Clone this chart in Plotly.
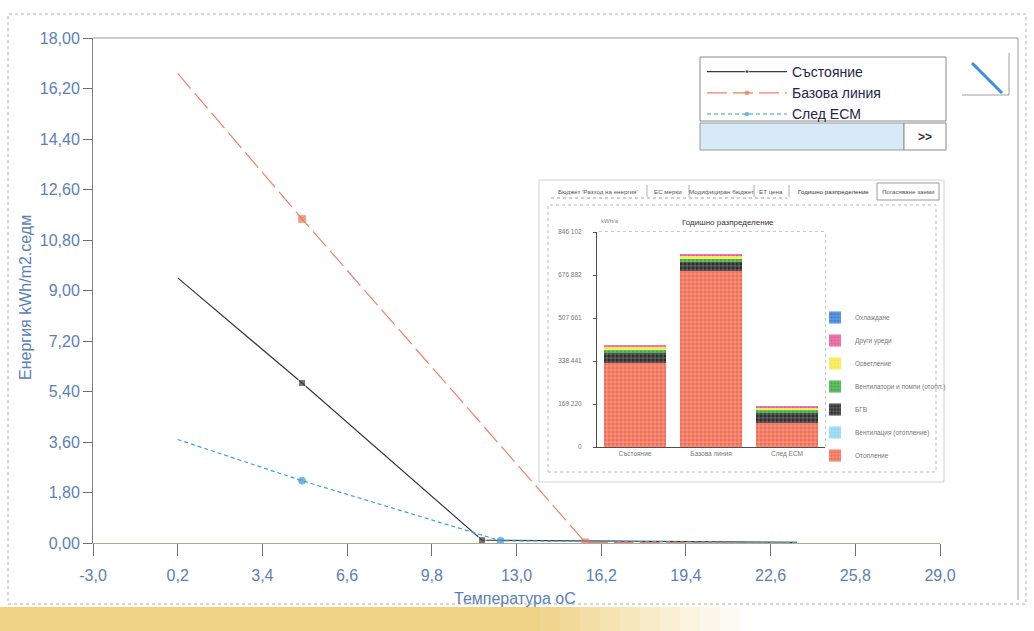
import plotly.graph_objects as go

# ---------------- main chart data ----------------
temp_state = [0.2, 4.9, 11.7, 23.6]
energy_state = [9.45, 5.70, 0.10, 0.02]

temp_base = [0.2, 4.9, 15.6, 23.6]
energy_base = [16.74, 11.55, 0.02, 0.0]

temp_ecm = [0.2, 4.9, 12.4, 23.6]
energy_ecm = [3.69, 2.22, 0.08, 0.02]

series_names = ["Състояние", "Базова линия", "След ECM"]

x_tick_vals = [-3.0, 0.2, 3.4, 6.6, 9.8, 13.0, 16.2, 19.4, 22.6, 25.8, 29.0]
x_tick_text = ["-3,0", "0,2", "3,4", "6,6", "9,8", "13,0", "16,2", "19,4", "22,6", "25,8", "29,0"]
y_tick_vals = [0.0, 1.8, 3.6, 5.4, 7.2, 9.0, 10.8, 12.6, 14.4, 16.2, 18.0]
y_tick_text = ["0,00", "1,80", "3,60", "5,40", "7,20", "9,00", "10,80", "12,60", "14,40", "16,20", "18,00"]

# ---------------- inset (annual distribution) data ----------------
inset_categories = ["Състояние", "Базова линия", "След ECM"]
heating = [330600, 692600, 94400]          # Отопление
ventilation_heat = [0, 0, 0]               # Вентилация (отопление)
dhw = [39300, 35400, 39300]                # БГВ
fans_pumps = [11800, 11800, 11800]         # Вентилатори и помпи
lighting = [11800, 11800, 9800]            # Осветление
appliances = [7900, 7900, 7900]            # Други уреди
cooling = [0, 0, 0]                        # Охлаждане

inset_tick_vals = [0, 169220, 338441, 507661, 676882, 846102]
inset_tick_text = ["0", "169 220", "338 441", "507 661", "676 882", "846 102"]

tab_labels = ["Бюджет 'Разход на енергия'", "ЕС мерки", "Модифициран бюджет",
              "ЕТ цена", "Годишно разпределение", "Погасяване заеми"]

# ---------------- geometry helpers (pixel -> paper) ----------------
L, R, T, B = 93, 940, 38, 543
W, H = 1034, 631


def fx(p):
    return (p - L) / (R - L)


def fy(p):
    return (B - p) / (B - T)


def end_marker_sizes(n, s):
    return [0] + [s] * (n - 2) + [0]


FONT = "Liberation Sans"
AXIS_BLUE = "#5b80b8"

fig = go.Figure()

fig.add_trace(go.Scatter(
    x=temp_state, y=energy_state, mode="lines+markers", name=series_names[0],
    line=dict(color="#3a3a3a", width=1.2),
    marker=dict(size=end_marker_sizes(len(temp_state), 7), color="#3a3a3a", symbol="square"),
    legend="legend"))
fig.add_trace(go.Scatter(
    x=temp_base, y=energy_base, mode="lines+markers", name=series_names[1],
    line=dict(color="#f0806a", width=1.2, dash="20px,6px"),
    marker=dict(size=end_marker_sizes(len(temp_base), 7), color="#f07050", symbol="square"),
    legend="legend"))
fig.add_trace(go.Scatter(
    x=temp_ecm, y=energy_ecm, mode="lines+markers", name=series_names[2],
    line=dict(color="#3aa0e0", width=1.2, dash="4px,3px"),
    marker=dict(size=end_marker_sizes(len(temp_ecm), 7), color="#3a90e0", symbol="circle"),
    legend="legend"))

# inset stacked bars (bottom to top)
bar_specs = [
    ("Отопление", heating, "#f26e55"),
    ("Вентилация (отопление)", ventilation_heat, "#8fd6f2"),
    ("БГВ", dhw, "#2e2e2e"),
    ("Вентилатори и помпи (отопл.)", fans_pumps, "#3fae45"),
    ("Осветление", lighting, "#f4ea45"),
    ("Други уреди", appliances, "#e85a9a"),
    ("Охлаждане", cooling, "#3b7fd8"),
]
for i, (name, vals, col) in enumerate(bar_specs):
    fig.add_trace(go.Bar(
        x=inset_categories, y=vals, name=name, xaxis="x2", yaxis="y2",
        marker=dict(color=col, line=dict(width=0),
                    pattern=dict(shape="+", fgcolor="white", size=4, solidity=0.25)),
        width=0.82, legend="legend2", legendgroup="g%d" % i,
        legendrank=100 - i))

shapes = []
ann = []


def text_at(px, py, s, size, color, angle=0):
    ann.append(dict(x=fx(px), y=fy(py), xref="paper", yref="paper", text=s, showarrow=False,
                    xanchor="center", yanchor="middle", textangle=angle,
                    font=dict(size=size, color=color, family=FONT)))


def pline(x0, y0, x1, y1, color, width=1, dash="solid"):
    shapes.append(dict(type="line", xref="paper", yref="paper", x0=fx(x0), x1=fx(x1), y0=fy(y0), y1=fy(y1),
                       line=dict(color=color, width=width, dash=dash)))


def prect(x0, y0, x1, y1, fill=None, color="#999", width=1, dash="solid", layer="above", opacity=1):
    d = dict(type="rect", xref="paper", yref="paper", x0=fx(x0), x1=fx(x1), y0=fy(y1), y1=fy(y0),
             line=dict(color=color, width=width, dash=dash), layer=layer, opacity=opacity)
    if fill:
        d["fillcolor"] = fill
    shapes.append(d)


# outer dotted page frame
prect(8, 14, 1026, 604, color="#b0b0b0", dash="dot", layer="below")
# chart top/right border
pline(93, 38, 1018, 38, "#9a9a9a")
pline(1018, 38, 1018, 600, "#9a9a9a")

# yellow stripe at bottom
prect(0, 607, 540, 631, fill="#efd283", width=0)
for k in range(10):
    prect(540 + 20 * k, 607, 560 + 20 * k, 631, fill="#efd283", width=0, opacity=0.9 - 0.09 * k)

# main legend box + extras
prect(700, 57, 946, 121, fill="white", color="#8a8a8a")
prect(700, 123, 904, 150, fill="#d6ebf7", color="#9a9a9a")
prect(904, 123, 946, 150, fill="white", color="#8a8a8a")
text_at(925, 137, "<b>>></b>", 12, "#333")

# diagonal icon
pline(972, 63, 1002, 93, "#3b8ee0", width=3)
pline(1009, 53, 1009, 95, "#a0a0a0")
pline(962, 95, 1009, 95, "#a0a0a0")

# inset panel
prect(539, 180, 944, 482, fill="white", color="#d0d0d0", layer="below")
prect(548, 205, 936, 472, color="#b8b8b8", dash="dot", layer="below")
prect(597, 232, 825, 447, color="#909090", dash="dot", layer="below")

# tabs
tab_centers = [598, 668, 721, 771, 833, 908]
for lab, cx in zip(tab_labels, tab_centers):
    text_at(cx, 191, lab, 6.2, "#333" if lab == "Годишно разпределение" else "#555")
for sx in [647, 689, 754, 789]:
    pline(sx, 185, sx, 197, "#b0b0b0")
pline(551, 198, 787, 198, "#a0a0a0", dash="dot")
prect(877, 183, 939, 200, color="#9a9a9a")

text_at(728, 222, "Годишно разпределение", 8, "#333")
text_at(610, 221, "kWh/a", 6, "#888")

# axis titles
text_at(25, 298, "Енергия kWh/m2.седм", 16, AXIS_BLUE, angle=-90)
text_at(515, 598, "Температура oC", 16, AXIS_BLUE)

fig.update_layout(
    width=W, height=H,
    margin=dict(l=L, r=W - R, t=T, b=H - B),
    paper_bgcolor="white", plot_bgcolor="white",
    barmode="stack", bargap=0.18,
    font=dict(family=FONT),
    shapes=shapes, annotations=ann,
    xaxis=dict(range=[-3.0, 29.0], tickvals=x_tick_vals, ticktext=x_tick_text,
               showgrid=False, zeroline=False, showline=True, linecolor="#b0aa88", linewidth=1,
               ticks="outside", ticklen=12, tickcolor="#707070", ticklabelstandoff=6,
               tickfont=dict(size=16, color=AXIS_BLUE, family=FONT)),
    yaxis=dict(range=[0, 18.0], tickvals=y_tick_vals, ticktext=y_tick_text,
               showgrid=False, zeroline=False, showline=True, linecolor="#808080", linewidth=1,
               ticks="outside", ticklen=9, tickcolor="#707070",
               tickfont=dict(size=16, color=AXIS_BLUE, family=FONT)),
    xaxis2=dict(domain=[fx(597), fx(825)], anchor="y2", showgrid=False, zeroline=False,
                showline=True, linecolor="#505050", linewidth=1, ticks="",
                tickfont=dict(size=6.5, color="#777", family=FONT)),
    yaxis2=dict(domain=[fy(447), fy(232)], anchor="x2", range=[0, 846102],
                tickvals=inset_tick_vals, ticktext=inset_tick_text,
                showgrid=False, zeroline=False, showline=True, linecolor="#505050", linewidth=1,
                ticks="outside", ticklen=3, tickcolor="#505050", ticklabelstandoff=10,
                tickfont=dict(size=6.5, color="#777", family=FONT)),
    legend=dict(x=fx(702), y=fy(56), xanchor="left", yanchor="top", bgcolor="rgba(0,0,0,0)",
                borderwidth=0, itemwidth=80, font=dict(size=14, color="#22264a", family=FONT),
                tracegroupgap=0),
    legend2=dict(x=fx(815), y=fy(303), xanchor="left", yanchor="top", bgcolor="rgba(0,0,0,0)",
                 borderwidth=0, traceorder="grouped", tracegroupgap=4,
                 font=dict(size=6.5, color="#777", family=FONT)),
)

fig.write_html("out.html", config={"displayModeBar": False},
               post_script="document.body.style.margin='0';document.body.style.overflow='hidden';")
